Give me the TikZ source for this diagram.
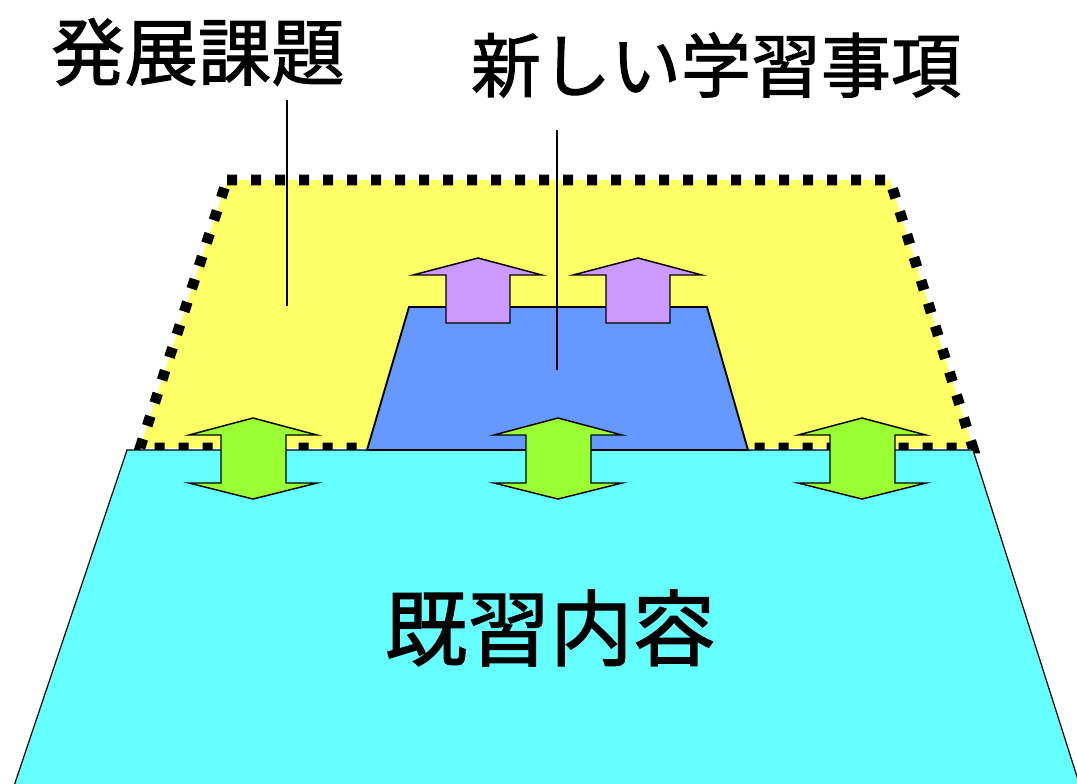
\documentclass[tikz,border=0pt]{standalone}
\usepackage{fontspec}
\newfontfamily\jpfont[FakeBold=1.5]{Noto Sans CJK JP}
\tikzset{
  yellowarea/.style={fill=yellowfill, draw=black, line width=8pt, dash pattern=on 7.5pt off 10.5pt, line cap=butt},
  basearea/.style={fill=cyanfill, draw=black, line width=0.9pt, line join=miter},
  newarea/.style={fill=bluefill, draw=black, line width=1.4pt, line join=miter},
  uparrow/.style={fill=purplefill, draw=black, line width=1.1pt, line join=miter},
  dblarrow/.style={fill=greenfill, draw=black, line width=1.1pt, line join=miter},
  leader/.style={draw=black, line width=1.3pt},
  label/.style={inner sep=0pt, font=\jpfont}
}
\definecolor{yellowfill}{HTML}{FFFF66}
\definecolor{cyanfill}{HTML}{66FFFF}
\definecolor{bluefill}{HTML}{6699FF}
\definecolor{purplefill}{HTML}{CC99FF}
\definecolor{greenfill}{HTML}{99FF33}
\begin{document}
\begin{tikzpicture}[x=0.75pt, y=-0.75pt]
\useasboundingbox (0,0) rectangle (1077,783);
% yellow advanced area
\path[yellowarea] (227,180) -- (890,180) -- (973,448) -- (140,448) -- cycle;
% cyan existing knowledge
\path[basearea] (127,450) -- (973,450) -- (1080,786) -- (14,786) -- cycle;
% blue new area
\path[newarea] (409,307) -- (707,307) -- (748,450) -- (367,450) -- cycle;
% purple up arrows
\foreach \c in {478,638}{
  \path[uparrow] (\c,258) -- (\c+64,275) -- (\c+32,275) -- (\c+32,323) -- (\c-32,323) -- (\c-32,275) -- (\c-65,275) -- cycle;
}
% green double arrows
\foreach \c in {253,558,862}{
  \path[dblarrow] (\c,418) -- (\c+64,435) -- (\c+33,435) -- (\c+33,483) -- (\c+64,483) -- (\c,499) -- (\c-64,483) -- (\c-32,483) -- (\c-32,435) -- (\c-64,435) -- cycle;
}
% labels
\node[label, font=\jpfont\fontsize{55}{60}\selectfont] (hatten) at (198,52) {発展課題};
\node[label, font=\jpfont\fontsize{52.5}{58}\selectfont] (atarashii) at (716,65) {新しい学習事項};
\node[label, font=\jpfont\fontsize{62}{68}\selectfont] (kishu) at (550,628) {既習内容};
% leader lines
\coordinate (hattenTop) at (287,100);
\coordinate (hattenEnd) at (287,306);
\coordinate (atarashiiTop) at (557,130);
\coordinate (atarashiiEnd) at (557,370);
\draw[leader] (hattenTop) -- (hattenEnd);
\draw[leader] (atarashiiTop) -- (atarashiiEnd);
\end{tikzpicture}
\end{document}
